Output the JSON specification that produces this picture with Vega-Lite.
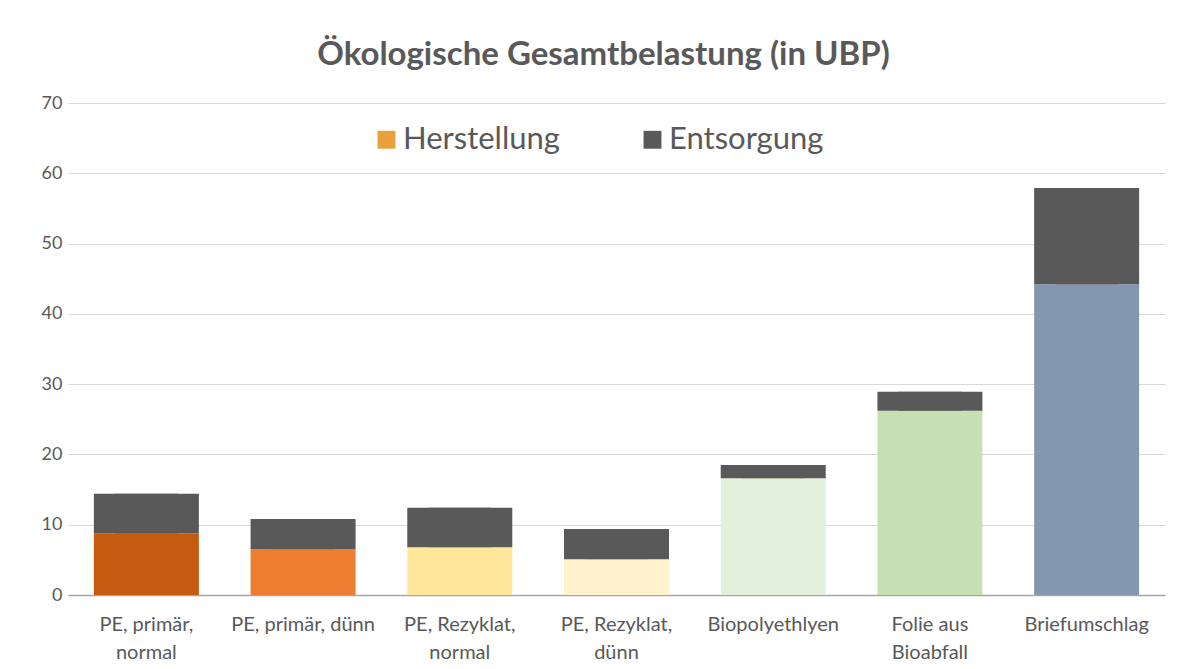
{
  "$schema": "https://vega.github.io/schema/vega-lite/v6.json",
  "autosize": {"type": "none"},
  "width": 1097,
  "height": 492,
  "padding": {"left": 68, "top": 103, "right": 12, "bottom": 74},
  "background": "white",
  "title": {
    "text": "Ökologische Gesamtbelastung (in UBP)",
    "font": "Lato",
    "fontSize": 33,
    "fontWeight": "bold",
    "color": "#595959",
    "anchor": "middle",
    "offset": 22,
    "dx": -13
  },
  "data": {
    "values": [
      {"Produkt": "PE, primär, normal", "Teil": "Herstellung", "Wert": 8.8},
      {"Produkt": "PE, primär, normal", "Teil": "Entsorgung", "Wert": 5.6},
      {"Produkt": "PE, primär, dünn", "Teil": "Herstellung", "Wert": 6.5},
      {"Produkt": "PE, primär, dünn", "Teil": "Entsorgung", "Wert": 4.3},
      {"Produkt": "PE, Rezyklat, normal", "Teil": "Herstellung", "Wert": 6.8},
      {"Produkt": "PE, Rezyklat, normal", "Teil": "Entsorgung", "Wert": 5.6},
      {"Produkt": "PE, Rezyklat, dünn", "Teil": "Herstellung", "Wert": 5.1},
      {"Produkt": "PE, Rezyklat, dünn", "Teil": "Entsorgung", "Wert": 4.3},
      {"Produkt": "Biopolyethlyen", "Teil": "Herstellung", "Wert": 16.6},
      {"Produkt": "Biopolyethlyen", "Teil": "Entsorgung", "Wert": 1.9},
      {"Produkt": "Folie aus Bioabfall", "Teil": "Herstellung", "Wert": 26.2},
      {"Produkt": "Folie aus Bioabfall", "Teil": "Entsorgung", "Wert": 2.7},
      {"Produkt": "Briefumschlag", "Teil": "Herstellung", "Wert": 44.2},
      {"Produkt": "Briefumschlag", "Teil": "Entsorgung", "Wert": 13.7}
    ]
  },
  "encoding": {
    "x": {
      "field": "Produkt",
      "type": "nominal",
      "sort": null,
      "scale": {"paddingInner": 0.33, "paddingOuter": 0.165},
      "axis": {
        "title": null,
        "labelAngle": 0,
        "labelFont": "Lato",
        "labelFontSize": 20,
        "labelColor": "#595959",
        "labelPadding": 19,
        "labelLineHeight": 28,
        "labelLimit": 300,
        "ticks": false,
        "domainColor": "#A6A6A6",
        "domainWidth": 1.5,
        "labelExpr": "indexof(['PE, primär, dünn','Biopolyethlyen','Briefumschlag'], datum.value) >= 0 ? datum.value : [slice(datum.value, 0, lastindexof(datum.value, ' ')), slice(datum.value, lastindexof(datum.value, ' ') + 1)]"
      }
    },
    "y": {
      "field": "Wert",
      "type": "quantitative",
      "stack": "zero",
      "scale": {"domain": [0, 70], "nice": false},
      "axis": {
        "title": null,
        "values": [0, 10, 20, 30, 40, 50, 60, 70],
        "labelFont": "Lato",
        "labelFontSize": 18,
        "labelColor": "#595959",
        "labelPadding": 6,
        "ticks": false,
        "domain": false,
        "gridColor": "#D9D9D9",
        "gridWidth": 1.2
      }
    },
    "order": {"field": "Teil", "sort": "descending"},
    "detail": {"field": "Teil"}
  },
  "layer": [
    {
      "mark": {"type": "bar", "width": {"band": 0.6}},
      "encoding": {
        "color": {
          "field": "Teil",
          "type": "nominal",
          "scale": {"domain": ["Herstellung", "Entsorgung"], "range": ["#E9A23B", "#595959"]},
          "legend": {
            "title": null,
            "orient": "none",
            "direction": "horizontal",
            "legendX": 303,
            "legendY": 21,
            "labelFont": "Lato",
            "labelFontSize": 31,
            "labelColor": "#595959",
            "labelLimit": 400,
            "symbolType": "square",
            "symbolSize": 320,
            "symbolStrokeWidth": 0,
            "labelOffset": 1,
            "columnPadding": 77
          }
        }
      }
    },
    {
      "mark": {"type": "bar"},
      "encoding": {
        "fill": {
          "condition": {"test": "datum.Teil === 'Entsorgung'", "value": "#595959"},
          "field": "Produkt",
          "type": "nominal",
          "scale": {
            "domain": ["PE, primär, normal", "PE, primär, dünn", "PE, Rezyklat, normal", "PE, Rezyklat, dünn", "Biopolyethlyen", "Folie aus Bioabfall", "Briefumschlag"],
            "range": ["#C55A11", "#ED7D31", "#FFE699", "#FFF2CC", "#E2EFDA", "#C6E0B4", "#8497B0"]
          },
          "legend": null
        }
      }
    }
  ],
  "config": {
    "view": {"stroke": null},
    "font": "Lato"
  }
}
